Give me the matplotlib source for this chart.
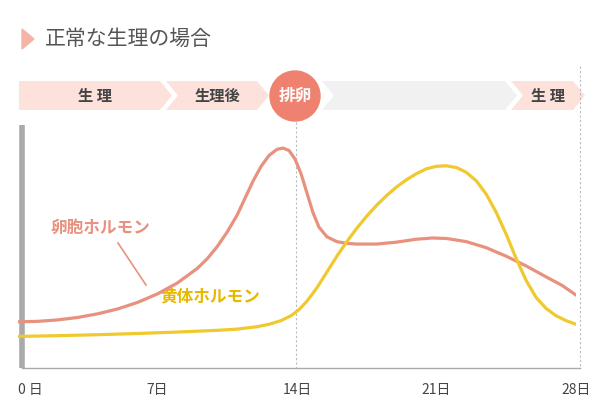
import matplotlib

matplotlib.use("Agg")
import matplotlib.pyplot as plt
from matplotlib.patches import Polygon, Circle

plt.rcParams["font.family"] = ["Noto Sans CJK JP", "DejaVu Sans"]

W, H = 600, 419
days_ticks = [0, 7, 14, 21, 28]
tick_labels = ["0 日", "7日", "14日", "21日", "28日"]

fsh_days = [0, 1, 2, 3, 4, 5, 6, 7, 8, 9, 9.5, 10, 10.5, 11, 11.4, 11.8, 12.2, 12.6, 13, 13.3, 13.6,
            13.9, 14.2, 14.5, 14.8, 15.1, 15.5, 16, 16.5, 17, 18, 19, 20, 20.8, 21.5, 22.5, 23.5,
            24.5, 25.5, 26.5, 27.3, 28]
fsh_vals = [19, 19.2, 19.8, 20.8, 22.3, 24.3, 27, 30.5, 35, 41, 45, 50, 56, 63, 70, 77, 83, 87.5, 90,
            90.5, 89.5, 86, 80, 72, 64, 58, 54, 52, 51.3, 51, 51, 51.8, 53, 53.5, 53.3, 52, 49.5,
            46, 42, 37.5, 34, 30]
lh_days = [0, 2, 4, 6, 8, 10, 11, 12, 12.6, 13.2, 13.7, 14.1, 14.5, 15, 15.5, 16, 16.5, 17, 17.5,
           18, 18.5, 19, 19.5, 20, 20.5, 21, 21.5, 22, 22.5, 23, 23.5, 24, 24.5, 25, 25.5, 26, 26.5,
           27, 27.5, 28]
lh_vals = [13, 13.3, 13.7, 14.2, 14.8, 15.5, 16, 17, 18, 19.5, 21.5, 24, 27.5, 33, 39.5, 46, 52, 57.5,
           62.5, 67, 71, 74.5, 77.5, 80, 82, 83, 83.2, 82.5, 80.5, 77, 71.5, 64, 55, 45, 36, 29, 24.5,
           21.5, 19.5, 18]

pink, yellow = "#e8917f", "#f0c92e"

fig = plt.figure(figsize=(W / 100, H / 100), dpi=100)
ov = fig.add_axes([0, 0, 1, 1])
ov.set_xlim(0, W)
ov.set_ylim(H, 0)
ov.axis("off")

# title
ov.add_patch(Polygon([[22, 29], [22, 49], [34, 39]], color="#f6b3a8"))
ov.text(45, 39, "正常な生理の場合", fontsize=15, color="#555555", va="center")

# phase bar
y0, y1 = 81, 110
ym = (y0 + y1) / 2
def chevron(xa, xb, color, first=False):
    pts = [[xa, y0], [xb, y0], [xb + 12, ym], [xb, y1], [xa, y1]]
    if not first:
        pts.append([xa + 12, ym])
    ov.add_patch(Polygon(pts, color=color, lw=0))
chevron(19, 160, "#fde2dc", first=True)
chevron(166, 257, "#fde2dc")
chevron(322, 505, "#f1f1f1")
chevron(511, 573, "#fde2dc")
ov.text(95, ym, "生 理", fontsize=11, color="#444444", ha="center", va="center", weight="bold")
ov.text(217, ym, "生理後", fontsize=11, color="#444444", ha="center", va="center", weight="bold")
ov.text(548, ym, "生 理", fontsize=11, color="#444444", ha="center", va="center", weight="bold")
ov.add_patch(Circle((295, 96), 25, color="#ef8170", zorder=3))
ov.text(295, 96, "排卵", fontsize=12, color="white", ha="center", va="center", weight="bold", zorder=4)

# axes lines
ov.plot([22, 22], [125, 368], color="#aaaaaa", lw=4, solid_capstyle="butt")
ov.plot([22, 580], [368, 368], color="#aaaaaa", lw=1)
ov.plot([296, 296], [122, 368], color="#bbbbbb", lw=0.8, ls=(0, (2, 2)))
ov.plot([580, 580], [66, 368], color="#bbbbbb", lw=0.8, ls=(0, (2, 2)))

# data axes
ax = fig.add_axes([18 / W, 1 - 368 / H, (576 - 18) / W, (368 - 125) / H])
ax.set_xlim(0, 28)
ax.set_ylim(0, 100)
ax.axis("off")
ax.plot(fsh_days, fsh_vals, color=pink, lw=2.3, solid_capstyle="round", solid_joinstyle="round")
ax.plot(lh_days, lh_vals, color=yellow, lw=2.3, solid_capstyle="round", solid_joinstyle="round")
for d, lab in zip(days_ticks, tick_labels):
    ax.text(d + (0.6 if d == 0 else 0), -6, lab, fontsize=10, color="#444444", ha="center", va="top",
            transform=ax.transData, clip_on=False)

# series labels
ov.text(50, 228, "卵胞ホルモン", fontsize=12, color=pink, va="center", weight="bold")
ov.plot([118, 146], [243, 285], color=pink, lw=1.2)
ov.text(160, 296, "黄体ホルモン", fontsize=12, color="#e8b800", va="center", weight="bold")

fig.savefig("out.png", dpi=100)
